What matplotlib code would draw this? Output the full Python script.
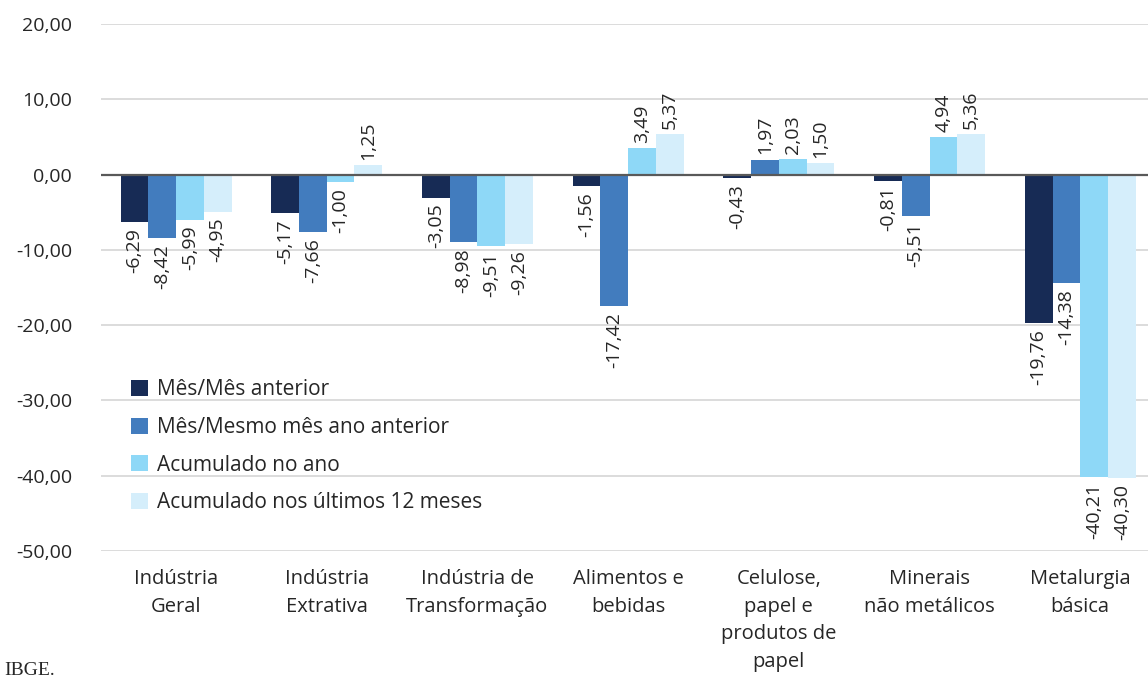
import matplotlib.pyplot as plt
import numpy as np

# categories and series
categorias = ['Indústria\nGeral', 'Indústria\nExtrativa', 'Indústria de\nTransformação',
              'Alimentos e\nbebidas', 'Celulose,\npapel e\nprodutos de\npapel',
              'Minerais\nnão metálicos', 'Metalurgia\nbásica']
mes_mes = [-6.29, -5.17, -3.05, -1.56, -0.43, -0.81, -19.76]
mes_mesmo_mes = [-8.42, -7.66, -8.98, -17.42, 1.97, -5.51, -14.38]
acum_ano = [-5.99, -1.00, -9.51, 3.49, 2.03, 4.94, -40.21]
acum_12m = [-4.95, 1.25, -9.26, 5.37, 1.50, 5.36, -40.30]

series = [
    ('Mês/Mês anterior', mes_mes, '#172B55'),
    ('Mês/Mesmo mês ano anterior', mes_mesmo_mes, '#427CBE'),
    ('Acumulado no ano', acum_ano, '#8ED8F7'),
    ('Acumulado nos últimos 12 meses', acum_12m, '#D5EEFB'),
]

plt.rcParams['font.family'] = ['Open Sans', 'DejaVu Sans']
txt = '#262626'
fs = 14

fig = plt.figure(figsize=(11.48, 6.77), dpi=100)
W, H = 1148, 677
ax = fig.add_axes([100.7 / W, 1 - 551 / H, (1155.6 - 100.7) / W, (551 - 24) / H])

x = np.arange(len(categorias))
bw = 0.184
for i, (nome, vals, cor) in enumerate(series):
    pos = x + (i - 1.5) * bw
    ax.bar(pos, vals, width=bw, color=cor, label=nome, zorder=2)
    for p, v in zip(pos, vals):
        s = f'{v:.2f}'.replace('.', ',')
        ax.text(p, v + (0.7 if v >= 0 else -0.8), s, rotation=90, ha='center',
                va='bottom' if v >= 0 else 'top', fontsize=fs, color=txt)

ax.set_xlim(-0.5, len(categorias) - 0.5)
ax.set_ylim(-50, 20)
ax.set_yticks(np.arange(-50, 21, 10))
ax.set_yticklabels([f'{t:.2f}'.replace('.', ',') for t in np.arange(-50, 21, 10)])
ax.set_xticks(x)
ax.set_xticklabels(categorias, linespacing=1.5, fontsize=14.5)
ax.tick_params(length=0, colors=txt)
ax.tick_params(axis='y', pad=20.5, labelsize=fs)
ax.tick_params(axis='x', pad=13)
ax.grid(axis='y', color='#D9D9D9', lw=1.3, zorder=0)
ax.axhline(0, color='#595959', lw=1.6, zorder=3)
for sp in ax.spines.values():
    sp.set_visible(False)

leg = ax.legend(loc='upper left', bbox_to_anchor=(123 / W, 1 - 371 / H),
                bbox_transform=fig.transFigure, frameon=False, fontsize=15,
                handlelength=0.8, handleheight=0.8, labelspacing=0.8,
                handletextpad=0.45, borderaxespad=0)
for t in leg.get_texts():
    t.set_color(txt)

fig.text(4 / W, 1 - 675 / H, 'IBGE.', family='Liberation Serif', fontsize=14,
         va='baseline', ha='left', color=txt)

fig.savefig('out.png', dpi=100)
